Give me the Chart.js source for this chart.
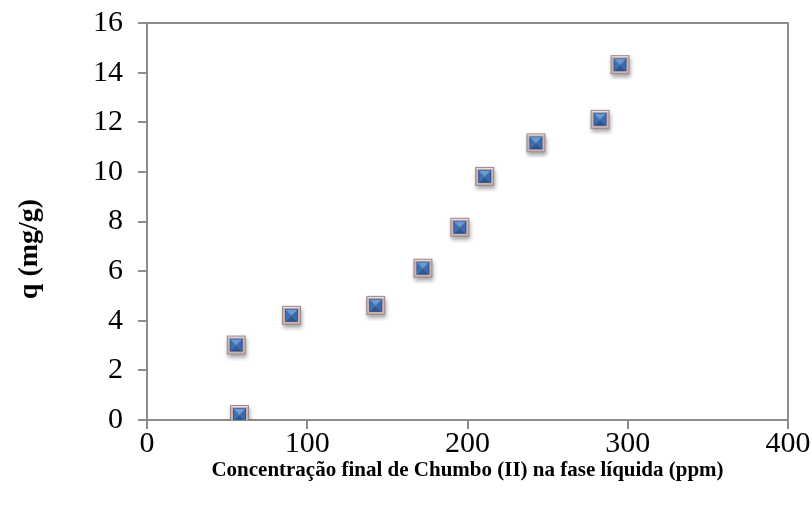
<!DOCTYPE html>
<html>
<head>
<meta charset="utf-8">
<script src="https://cdn.jsdelivr.net/npm/chart.js@4/dist/chart.umd.min.js"></script>
<style>
  html, body { margin: 0; padding: 0; background: #fff; }
  #wrap { width: 812px; height: 511px; position: relative; }
</style>
</head>
<body>
<div id="wrap"><canvas id="c"></canvas></div>
<script>
// final Pb(II) concentration vs adsorbed amount
const concPpm = [58, 56, 90.5, 143, 172.5, 195.5, 211, 243, 283, 295.5];
const qMgG = [0.2, 3.0, 4.2, 4.6, 6.1, 7.75, 9.8, 11.15, 12.1, 14.3];

const AXIS = "#8c8c8c";
const SERIF = "'Liberation Serif', 'Times New Roman', serif";
const Y_TITLE = "q (mg/g)";

// the bevelled "pyramid" square marker, with its soft drop shadow
function pyramidMarker() {
  const s = 30, c = document.createElement("canvas");
  c.width = s; c.height = s;
  const g = c.getContext("2d");
  const o = 5, w = 19; // outer box
  g.save();
  g.shadowColor = "rgba(0,0,0,0.35)";
  g.shadowBlur = 4;
  g.shadowOffsetX = 1;
  g.shadowOffsetY = 3;
  g.fillStyle = "#c9b4b4";
  g.fillRect(o, o, w, w);
  g.restore();
  g.strokeStyle = "#9c8686";
  g.lineWidth = 1;
  g.strokeRect(o + 0.5, o + 0.5, w - 1, w - 1);
  g.fillStyle = "#ece2e2";
  g.fillRect(o + 1, o + 1, w - 2, 1);
  const i = o + 3, iw = w - 6, cx = i + iw / 2, cy = i + iw / 2;
  const tri = (pts, col) => {
    g.beginPath(); g.moveTo(pts[0], pts[1]); g.lineTo(pts[2], pts[3]); g.lineTo(cx, cy);
    g.closePath(); g.fillStyle = col; g.fill();
  };
  tri([i, i, i + iw, i], "#6d9bd6");           // top
  tri([i, i, i, i + iw], "#3e70b4");           // left
  tri([i + iw, i, i + iw, i + iw], "#3a6aae"); // right
  tri([i, i + iw, i + iw, i + iw], "#2b5896"); // bottom
  g.strokeStyle = "rgba(30,60,110,0.5)";
  g.strokeRect(i + 0.5, i + 0.5, iw - 1, iw - 1);
  return c;
}

const frame = {
  id: "frame", // top and right edges of the plot box, plus the y title (sits low, as in the source)
  afterDraw(chart) {
    const a = chart.chartArea, g = chart.ctx;
    g.save();
    g.strokeStyle = AXIS; g.lineWidth = 2;
    g.beginPath();
    g.moveTo(a.left - 9, a.top); g.lineTo(a.right, a.top); g.lineTo(a.right, a.bottom + 9);
    g.stroke();
    g.translate(30, 249);
    g.rotate(-Math.PI / 2);
    g.font = `bold 28px ${SERIF}`;
    g.fillStyle = "#000";
    g.textAlign = "center";
    g.textBaseline = "middle";
    g.fillText(Y_TITLE, 0, 0);
    g.restore();
  },
};

new Chart(document.getElementById("c"), {
  type: "scatter",
  data: {
    datasets: [{
      data: concPpm.map((x, k) => ({ x, y: qMgG[k] })),
      pointStyle: pyramidMarker(),
      pointRadius: 10,
      pointHoverRadius: 10,
    }],
  },
  options: {
    responsive: true,
    maintainAspectRatio: false,
    animation: false,
    layout: { autoPadding: false, padding: { top: 23, right: 24, left: 0, bottom: 0 } },
    plugins: { legend: { display: false }, tooltip: { enabled: false } },
    scales: {
      x: {
        min: 0, max: 400,
        ticks: { stepSize: 100, color: "#000", font: { family: SERIF, size: 30, lineHeight: 1 }, padding: 0, maxRotation: 0 },
        grid: { drawOnChartArea: false, tickLength: 9, color: AXIS, lineWidth: 2 },
        border: { color: AXIS, width: 2 },
        title: {
          display: true,
          text: "Concentração final de Chumbo (II) na fase líquida (ppm)",
          color: "#000",
          font: { family: SERIF, size: 21, weight: "bold" },
          padding: { top: 0, bottom: 28 },
        },
        afterFit: (s) => { s.height = 91; },
      },
      y: {
        min: 0, max: 16,
        ticks: { stepSize: 2, color: "#000", font: { family: SERIF, size: 30, lineHeight: 0.5 }, padding: 15 },
        grid: { drawOnChartArea: false, tickLength: 9, color: AXIS, lineWidth: 2 },
        border: { color: AXIS, width: 2 },
        afterFit: (s) => { s.width = 147; },
      },
    },
  },
  plugins: [frame],
});
</script>
</body>
</html>
